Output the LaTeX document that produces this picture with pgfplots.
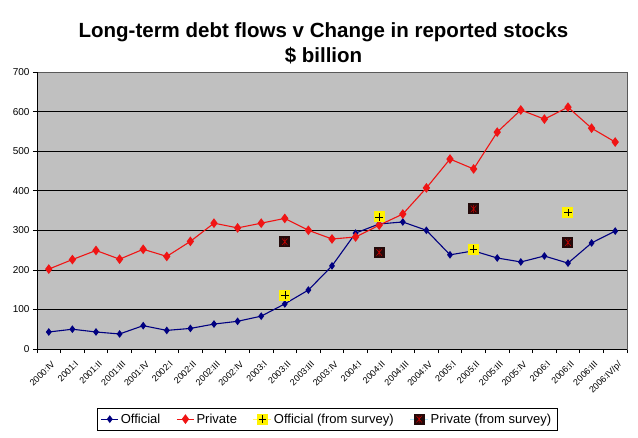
\documentclass[border=0pt]{standalone}
\usepackage{fontspec}
\setmainfont{Liberation Sans}
\usepackage{pgfplots}
\pgfplotsset{compat=1.18}
\definecolor{bggray}{RGB}{192,192,192}
\definecolor{navyline}{RGB}{0,0,128}
\definecolor{redline}{RGB}{240,20,20}
\definecolor{darksq}{RGB}{35,10,10}
\pgfdeclareplotmark{sqplus}{%
  \pgfpathrectangle{\pgfpoint{-\pgfplotmarksize}{-\pgfplotmarksize}}{\pgfpoint{2\pgfplotmarksize}{2\pgfplotmarksize}}%
  \pgfsetfillcolor{yellow}\pgfusepath{fill}%
  \pgfsetstrokecolor{black}\pgfsetlinewidth{0.5pt}%
  \pgfpathmoveto{\pgfpoint{-0.7\pgfplotmarksize}{0pt}}\pgfpathlineto{\pgfpoint{0.7\pgfplotmarksize}{0pt}}%
  \pgfpathmoveto{\pgfpoint{0pt}{-0.7\pgfplotmarksize}}\pgfpathlineto{\pgfpoint{0pt}{0.7\pgfplotmarksize}}%
  \pgfusepath{stroke}}
\pgfdeclareplotmark{sqx}{%
  \pgfpathrectangle{\pgfpoint{-\pgfplotmarksize}{-\pgfplotmarksize}}{\pgfpoint{2\pgfplotmarksize}{2\pgfplotmarksize}}%
  \pgfsetfillcolor{darksq}\pgfusepath{fill}%
  \pgfsetstrokecolor{red!80!black}\pgfsetlinewidth{0.5pt}%
  \pgfpathmoveto{\pgfpoint{-0.5\pgfplotmarksize}{-0.6\pgfplotmarksize}}\pgfpathlineto{\pgfpoint{0.5\pgfplotmarksize}{0.6\pgfplotmarksize}}%
  \pgfpathmoveto{\pgfpoint{-0.5\pgfplotmarksize}{0.6\pgfplotmarksize}}\pgfpathlineto{\pgfpoint{0.5\pgfplotmarksize}{-0.6\pgfplotmarksize}}%
  \pgfpathmoveto{\pgfpoint{0pt}{-0.7\pgfplotmarksize}}\pgfpathlineto{\pgfpoint{0pt}{0.7\pgfplotmarksize}}%
  \pgfusepath{stroke}}
\pgfplotstableread{
x official private
0 43 202
1 50 226
2 43 249
3 38 227
4 59 252
5 47 234
6 52 272
7 63 318
8 70 306
9 83 318
10 114 330
11 149 300
12 210 278
13 293 283
14 316 313
15 321 341
16 300 407
17 238 480
18 248 455
19 230 548
20 220 604
21 235 581
22 217 611
23 268 558
24 298 523
}\mainData
\pgfplotstableread{
x offsurvey privsurvey
10 136 271
14 334 244
18 252 354
22 345 269
}\surveyData
\begin{document}
\begin{tikzpicture}[x=1pt,y=1pt]
\useasboundingbox (-37,-88) rectangle (601,349);
\node[anchor=base,font=\fontsize{20.5}{22}\selectfont\bfseries] at (286.5,311) {Long-term debt flows v Change in reported stocks};
\node[anchor=base,font=\fontsize{20.5}{22}\selectfont\bfseries] at (286.5,286) {\$ billion};
\begin{axis}[
  at={(0pt,0pt)}, anchor=south west,
  scale only axis, width=590pt, height=277pt,
  xmin=-0.5, xmax=24.5, ymin=0, ymax=700,
  axis background/.style={fill=bggray},
  axis line style={draw=gray!70!black, line width=0.6pt},
  ytick={0,100,...,700},
  ymajorgrids, grid style={black, line width=0.6pt},
  xtick={0,...,24},
  xticklabels={2000:IV,2001:I,2001:II,2001:III,2001:IV,2002:I,2002:II,2002:III,2002:IV,2003:I,2003:II,2003:III,2003:IV,2004:I,2004:II,2004:III,2004:IV,2005:I,2005:II,2005:III,2005:IV,2006:I,2006:II,2006:III,2006:IV/p/},
  major x tick style={draw=none},
  minor xtick={-0.5,0.5,...,24.5},
  minor x tick style={black, line width=0.6pt},
  major y tick style={black, line width=0.6pt},
  tick align=outside, tick pos=left,
  major tick length=4pt, minor tick length=4pt,
  x tick label style={rotate=45, anchor=north east, font=\fontsize{9}{10}\selectfont, inner sep=0.5pt, yshift=-6pt, xshift=-3pt},
  y tick label style={font=\fontsize{10}{11}\selectfont},
  /pgf/number format/assume math mode=true,
  legend style={at={(0.4915,-0.213)}, anchor=north, legend columns=4, draw=black, font=\fontsize{13}{15}\selectfont, inner sep=3.5pt, /tikz/every even column/.append style={column sep=14pt}},
  legend cell align=left,
]
\draw[black, line width=0.6pt] (rel axis cs:0,1) -- (rel axis cs:0,0) -- (rel axis cs:1,0);
\addplot[navyline, line width=1.1pt, mark=diamond*, mark size=3pt, mark options={fill=navyline, draw=navyline}] table[x=x,y=official] {\mainData};
\addlegendentry{Official}
\addplot[redline, line width=1.1pt, mark=diamond*, mark size=4pt, mark options={fill=redline, draw=redline}] table[x=x,y=private] {\mainData};
\addlegendentry{Private}
\addplot[only marks, mark=sqplus, mark size=5.5pt, legend image code/.code={\draw[yellow!60, line width=1pt] (0pt,0pt) -- (18pt,0pt); \pgftransformshift{\pgfpoint{9pt}{0pt}}\pgfuseplotmark{sqplus}}] table[x=x,y=offsurvey] {\surveyData};
\addlegendentry{Official (from survey)}
\addplot[only marks, mark=sqx, mark size=5.5pt, legend image code/.code={\draw[cyan!30, line width=1pt] (0pt,0pt) -- (18pt,0pt); \pgftransformshift{\pgfpoint{9pt}{0pt}}\pgfuseplotmark{sqx}}] table[x=x,y=privsurvey] {\surveyData};
\addlegendentry{Private (from survey)}
\end{axis}
\end{tikzpicture}
\end{document}
